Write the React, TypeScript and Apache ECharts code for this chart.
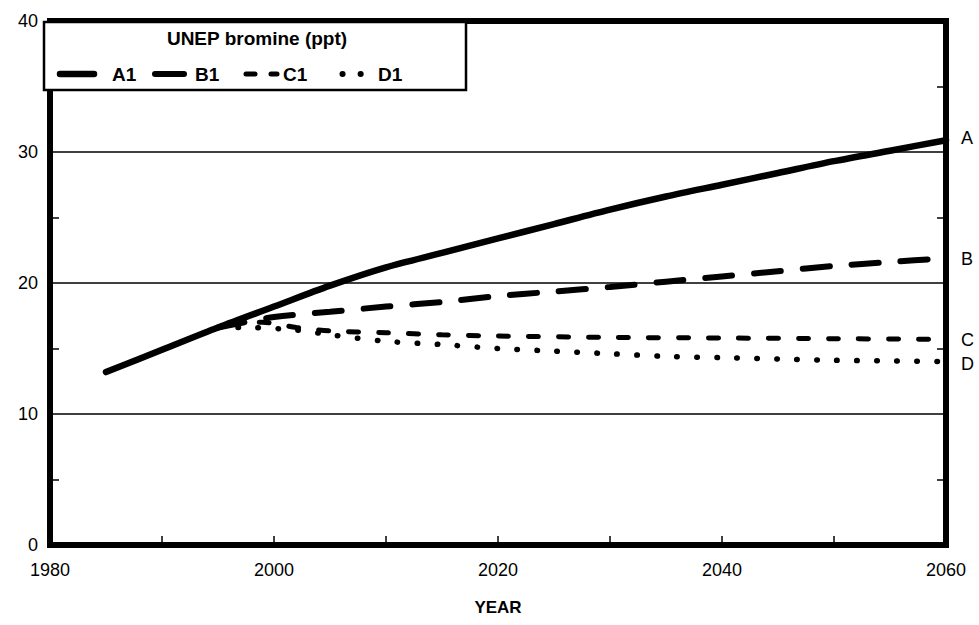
import React, { useEffect, useRef } from "react";
import * as echarts from "echarts";

// UNEP bromine scenarios (ppt) by year
const yearsA = [1985, 1990, 1995, 2000, 2005, 2010, 2015, 2020, 2025, 2030, 2035, 2040, 2045, 2050, 2055, 2060];
const valuesA = [13.2, 14.9, 16.6, 18.2, 19.8, 21.2, 22.3, 23.4, 24.5, 25.6, 26.6, 27.5, 28.4, 29.3, 30.1, 30.9];

const yearsB = [1995, 2000, 2005, 2010, 2015, 2020, 2025, 2030, 2035, 2040, 2045, 2050, 2055, 2060];
const valuesB = [16.6, 17.4, 17.8, 18.2, 18.55, 19.0, 19.35, 19.7, 20.1, 20.5, 20.9, 21.3, 21.6, 21.9];

const yearsC = [1996, 1999, 2002, 2005, 2010, 2015, 2020, 2030, 2040, 2050, 2060];
const valuesC = [16.9, 17.0, 16.6, 16.35, 16.2, 16.05, 15.95, 15.85, 15.8, 15.75, 15.7];

const yearsD = [1995, 1998, 2002, 2005, 2010, 2015, 2020, 2025, 2030, 2035, 2040, 2045, 2050, 2055, 2060];
const valuesD = [16.6, 16.6, 16.4, 16.05, 15.55, 15.3, 15.0, 14.8, 14.6, 14.4, 14.3, 14.2, 14.1, 14.05, 14.0];

const seriesNames = ["A1", "B1", "C1", "D1"];
const endTags = ["A", "B", "C", "D"];
const legendTitle = "UNEP bromine (ppt)";
const xAxisTitle = "YEAR";

const FONT = '"Liberation Sans", Arial, Helvetica, sans-serif';

const pairs = (xs: number[], ys: number[]) => xs.map((x, i) => [x, ys[i]]);

export default function App() {
  const ref = useRef<HTMLDivElement>(null);

  useEffect(() => {
    document.body.style.margin = "0";
    if (!ref.current) return;
    const chart = echarts.init(ref.current, null, { renderer: "svg" });

    const endLabel = (tag: string, offset: number[]) => ({
      show: true,
      formatter: tag,
      distance: 15,
      offset,
      color: "#000",
      fontSize: 18,
      fontFamily: FONT,
    });

    const minor = () => ({ show: true, splitNumber: 2, length: 9, lineStyle: { color: "#000", width: 1.5 } });

    const legendY = 74;
    const legendText = (text: string, x: number) => ({
      type: "text",
      x,
      y: legendY,
      z: 12,
      style: {
        text,
        fill: "#000",
        font: `bold 19px ${FONT}`,
        align: "left",
        verticalAlign: "middle",
      },
    });
    const legendSample = (x1: number, x2: number, width: number, dash?: number[]) => {
      const style: any = { stroke: "#000", lineWidth: width, lineCap: "round" };
      if (dash) style.lineDash = dash;
      return {
        type: "polyline",
        z: 12,
        shape: { points: [[x1, legendY], [x2, legendY]] },
        style,
      };
    };

    chart.setOption({
      animation: false,
      backgroundColor: "#fff",
      grid: {
        left: 50,
        right: 33,
        top: 21,
        bottom: 80,
        containLabel: false,
        show: true,
        z: 5,
        borderColor: "#000",
        borderWidth: 6,
        backgroundColor: "transparent",
      },
      xAxis: [
        {
          type: "value",
          min: 1980,
          max: 2060,
          interval: 20,
          name: xAxisTitle,
          nameLocation: "middle",
          nameGap: 54,
          nameTextStyle: { color: "#000", fontSize: 17, fontWeight: "bold", fontFamily: FONT },
          axisLine: { show: false },
          axisTick: { show: true, inside: true, length: 9, lineStyle: { color: "#000", width: 1.5 } },
          minorTick: minor(),
          axisLabel: {
            color: "#000",
            fontSize: 18,
            fontFamily: FONT,
            margin: 16,
            formatter: (v: number) => String(v),
          },
          splitLine: { show: false },
        },
      ],
      yAxis: [
        {
          type: "value",
          min: 0,
          max: 40,
          interval: 10,
          axisLine: { show: false },
          axisTick: { show: false, inside: true },
          minorTick: minor(),
          axisLabel: { color: "#000", fontSize: 18, fontFamily: FONT, margin: 12 },
          splitLine: { show: true, lineStyle: { color: "#000", width: 1.5 } },
        },
        {
          type: "value",
          position: "right",
          min: 0,
          max: 40,
          interval: 10,
          axisLine: { show: false },
          axisTick: { show: false, inside: true },
          minorTick: minor(),
          axisLabel: { show: false },
          splitLine: { show: false },
        },
      ],
      series: [
        {
          type: "line",
          name: seriesNames[3],
          data: pairs(yearsD, valuesD),
          symbol: "none",
          smooth: 0.3,
          lineStyle: { color: "#000", width: 5.5, type: [0.5, 19.5], cap: "round" },
          endLabel: endLabel(endTags[3], [0, 2]),
        },
        {
          type: "line",
          name: seriesNames[2],
          data: pairs(yearsC, valuesC),
          symbol: "none",
          smooth: 0.3,
          lineStyle: { color: "#000", width: 5, type: [10, 20], cap: "round" },
          endLabel: endLabel(endTags[2], [0, 1]),
        },
        {
          type: "line",
          name: seriesNames[1],
          data: pairs(yearsB, valuesB),
          symbol: "none",
          smooth: 0.3,
          lineStyle: { color: "#000", width: 6, type: [27, 22], cap: "round" },
          endLabel: endLabel(endTags[1], [0, 1]),
        },
        {
          type: "line",
          name: seriesNames[0],
          data: pairs(yearsA, valuesA),
          symbol: "none",
          smooth: 0.3,
          z: 3,
          lineStyle: { color: "#000", width: 6.5, cap: "round", join: "round" },
          endLabel: endLabel(endTags[0], [0, -2]),
        },
      ],
      graphic: [
        {
          type: "rect",
          z: 10,
          shape: { x: 44, y: 22, width: 422, height: 68 },
          style: { fill: "#fff", stroke: "#000", lineWidth: 2.5 },
        },
        {
          type: "text",
          x: 257,
          y: 38,
          z: 12,
          style: {
            text: legendTitle,
            fill: "#000",
            font: `bold 19px ${FONT}`,
            align: "center",
            verticalAlign: "middle",
          },
        },
        legendSample(60, 94, 6.5),
        legendText(seriesNames[0], 112),
        legendSample(155, 184, 6),
        legendText(seriesNames[1], 195),
        legendSample(246, 277, 5, [9, 16]),
        legendText(seriesNames[2], 283),
        legendSample(342.5, 361, 6, [0.1, 18]),
        legendText(seriesNames[3], 378),
      ],
    });

    return () => chart.dispose();
  }, []);

  return <div ref={ref} style={{ width: 979, height: 625 }} />;
}
